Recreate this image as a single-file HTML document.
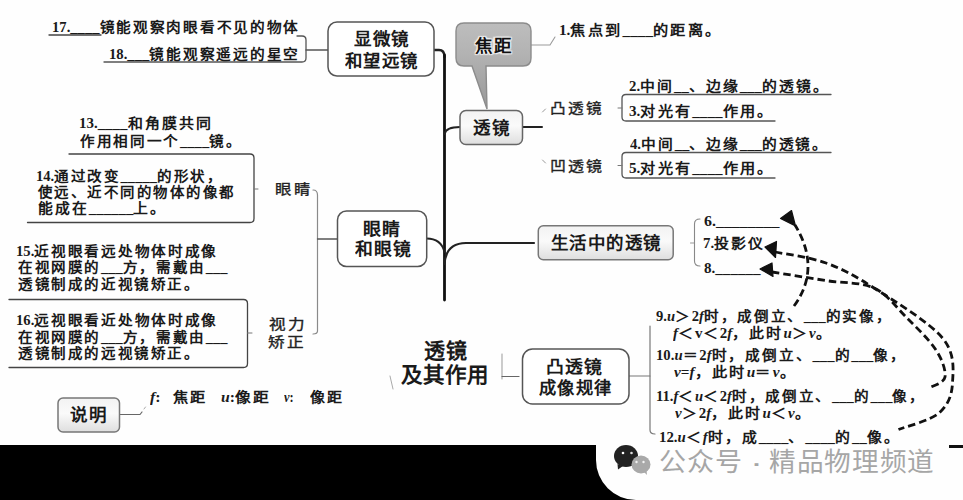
<!DOCTYPE html>
<html lang="zh-CN"><head><meta charset="utf-8"><style>
html,body{margin:0;padding:0;width:963px;height:500px;overflow:hidden;background:#fefefe}
.t{position:absolute;white-space:nowrap;font-family:"Liberation Serif",serif;line-height:100px;color:#1a1a1a;transform-origin:0 0}
.t i{font-style:italic}
.u,.t i{letter-spacing:0}
svg{position:absolute;left:0;top:0}
.wm{position:absolute;white-space:nowrap;font-family:"Liberation Sans",sans-serif;color:#9c9c9c;line-height:40px}
</style></head><body>
<svg width="963" height="500" viewBox="0 0 963 500">
<defs>
<linearGradient id="gbox" x1="0" y1="0" x2="0" y2="1">
<stop offset="0" stop-color="#f2f2f2"/><stop offset="0.45" stop-color="#fafafa"/><stop offset="1" stop-color="#dedede"/>
</linearGradient>
<linearGradient id="gcall" x1="0" y1="0" x2="0" y2="1">
<stop offset="0" stop-color="#bdbdbd"/><stop offset="0.35" stop-color="#b3b3b3"/><stop offset="1" stop-color="#979797"/>
</linearGradient>
</defs>
<g fill="none" stroke-linecap="round" stroke-linejoin="round">
<!-- 17/18 -->
<path d="M49 35 H101" stroke="#444" stroke-width="1.3"/>
<path d="M104 62 H302 Q306 62 306 58 V40 Q306 36 302 36 H297" stroke="#555" stroke-width="1.3"/>
<path d="M306 50 H328" stroke="#555" stroke-width="1.3"/>
<!-- trunk -->
<path d="M434 50 H439 Q444.5 50 444.5 57" stroke="#222" stroke-width="2.4"/>
<path d="M444.5 55 V300" stroke="#111" stroke-width="2.8"/>
<!-- callout connector -->
<path d="M531 45 H550 L555 37" stroke="#9a9a9a" stroke-width="1.1"/>
<!-- lens -->
<path d="M444.5 134 Q446 127 460 127" stroke="#222" stroke-width="2"/>
<path d="M522.5 127 H542" stroke="#222" stroke-width="2"/>
<path d="M542.5 112 L545.5 109" stroke="#999" stroke-width="1"/>
<path d="M542.5 160 L545.5 163" stroke="#999" stroke-width="1"/>
<path d="M831 94.5 H626 Q622 94.5 622 98.5 V117 Q622 121 626 121 H775" stroke="#555" stroke-width="1.3"/>
<path d="M618 108 H622" stroke="#777" stroke-width="1"/>
<path d="M831 152.5 H626 Q622 152.5 622 156.5 V174 Q622 178 626 178 H775" stroke="#555" stroke-width="1.3"/>
<path d="M618 165.5 H622" stroke="#777" stroke-width="1"/>
<!-- 13/14 -->
<path d="M69 154 H250 Q254 154 254 158 V218.5 Q254 222.5 250 222.5 H27.5" stroke="#444" stroke-width="1.3"/>
<path d="M254 189 H258" stroke="#777" stroke-width="1"/>
<path d="M313 190 Q317.5 190 317.5 195 V331 Q317.5 334 313 334" stroke="#8a8a8a" stroke-width="1.2"/>
<path d="M317.5 239 H337.5" stroke="#555" stroke-width="1.3"/>
<path d="M9 299.5 H243.5 Q247.5 299.5 247.5 303.5 V363.5 Q247.5 367.5 243.5 367.5 H9" stroke="#444" stroke-width="1.3"/>
<path d="M247.5 333 H252" stroke="#777" stroke-width="1"/>
<path d="M426.6 238.6 Q441 238.6 444.5 252" stroke="#222" stroke-width="2"/>
<!-- life -->
<path d="M444.5 264 Q446 243 466 243 H534" stroke="#222" stroke-width="2.2"/>
<path d="M690.5 243 H694.5" stroke="#999" stroke-width="1"/>
<path d="M700 219 Q694.5 219 694.5 224 V261 Q694.5 266 700 266" stroke="#888" stroke-width="1.1"/>
<!-- title / rules -->
<path d="M390 376 L393 389" stroke="#aaa" stroke-width="1"/>
<path d="M502 354 V379" stroke="#999" stroke-width="1"/>
<path d="M502 376.5 H519" stroke="#666" stroke-width="1.2"/>
<path d="M629 376 H650" stroke="#777" stroke-width="1.1"/>
<path d="M650 326 V430 Q650 434 655 434" stroke="#777" stroke-width="1.2"/>
<path d="M120 414.5 H140 L142 412" stroke="#666" stroke-width="1.2"/>
<path d="M144 409 L145.5 407" stroke="#aaa" stroke-width="1"/>
</g>
<!-- boxes -->
<rect x="328" y="22" width="106" height="54" rx="9" fill="#fff" stroke="#555" stroke-width="1.5"/>
<path d="M464 23 H523 Q531 23 531 31 V58 Q531 66 523 66 H486 L487 109 L472 66 H464 Q456 66 456 58 V31 Q456 23 464 23 Z" fill="url(#gcall)" stroke="#8c8c8c" stroke-width="1.4"/>
<rect x="460" y="110.5" width="62.5" height="34" rx="6" fill="url(#gbox)" stroke="#666" stroke-width="1.5"/>
<rect x="337.5" y="211" width="89.2" height="55.5" rx="9" fill="#fff" stroke="#555" stroke-width="1.5"/>
<rect x="538.3" y="225.8" width="134.9" height="34" rx="5" fill="url(#gbox)" stroke="#777" stroke-width="1.5"/>
<rect x="522.5" y="349" width="106.5" height="55" rx="10" fill="#fff" stroke="#555" stroke-width="1.5"/>
<rect x="58" y="398" width="61.5" height="34" rx="5" fill="url(#gbox)" stroke="#777" stroke-width="1.5"/>
<!-- dashed arrows -->
<g fill="none" stroke="#111" stroke-width="2.8" stroke-dasharray="7.5 4">
<path d="M794 306 Q821.5 268.5 795 225"/>
<path d="M775 252 C783.5 253.8 809.5 257.0 826 263 C842.5 269.0 854.6 275.5 874 288 C893.4 300.5 929.4 322.2 942.5 338 C955.6 353.8 953.1 370.5 952.5 383 C951.9 395.5 948.0 405.2 939 413 C930.0 420.8 905.2 426.8 898.5 429.5"/>
<path d="M772 272 C781.0 273.4 809.0 277.9 826 280.6 C843.0 283.3 860.7 281.9 874 288 C887.3 294.1 895.7 306.7 906 317 C916.3 327.3 929.5 340.0 936 350 C942.5 360.0 946.0 370.8 945 377 C944.0 383.2 932.5 385.8 930 387.5"/>
</g>
<g fill="#111">
<path d="M791.5 210.5 L780.5 218.5 L795.5 226 Z" stroke="#111" stroke-width="1.2" stroke-linejoin="round"/>
<path d="M765 247 L776.5 241.5 L775.5 257.5 Z" stroke="#111" stroke-width="1.2" stroke-linejoin="round"/>
<path d="M760 269 L772 263 L773 276.5 Z" stroke="#111" stroke-width="1.2" stroke-linejoin="round"/>
</g>
<!-- black bar -->
<path d="M0 445 H596 V460 A40 40 0 0 0 636 500 H0 Z" fill="#000"/>
<rect x="949" y="445" width="14" height="3" fill="#111"/>
<!-- wechat icon -->
<ellipse cx="626" cy="456" rx="12" ry="11" fill="#222"/>
<path d="M617.5 464 L618 469.5 L623 466 Z" fill="#222"/>
<circle cx="623" cy="453" r="1.3" fill="#fff"/><circle cx="631.5" cy="453" r="1.3" fill="#ddd"/>
<ellipse cx="641" cy="464.5" rx="9.5" ry="9" fill="#a9a9a9"/>
<path d="M644 472 L647 475 L646.5 470 Z" fill="#a9a9a9"/>
<circle cx="636.5" cy="462" r="1.2" fill="#f2f2f2"/><circle cx="643.5" cy="462" r="1.2" fill="#f2f2f2"/>
</svg>
<div class="t" style="left:51.96px;top:-22.00px;font-size:14px;font-weight:bold;letter-spacing:2px;transform:scaleX(1.0449);"><span class="u">17.____</span>镜能观察肉眼看不见的物体</div>
<div class="t" style="left:108.95px;top:4.50px;font-size:14px;font-weight:bold;letter-spacing:2px;transform:scaleX(1.0475);"><span class="u">18.___</span>镜能观察遥远的星空</div>
<div class="t" style="left:354.00px;top:-10.00px;font-size:17px;font-weight:bold;letter-spacing:1px;transform:scaleX(1.0288);">显微镜</div>
<div class="t" style="left:344.50px;top:11.50px;font-size:17px;font-weight:bold;letter-spacing:1px;transform:scaleX(1.0214);">和望远镜</div>
<div class="t" style="left:475.00px;top:-3.50px;font-size:17px;font-weight:bold;letter-spacing:1px;transform:scaleX(1.0294);text-shadow:0 0 1px #fff,0 0 2px #fff,1px 1px 1px #eee,-1px -1px 1px #eee,1px -1px 1px #eee,-1px 1px 1px #eee;color:#111;">焦距</div>
<div class="t" style="left:558.91px;top:-19.50px;font-size:14px;font-weight:bold;letter-spacing:2px;transform:scaleX(1.0870);"><span class="u">1.</span>焦点到<span class="u">____</span>的距离。</div>
<div class="t" style="left:472.50px;top:78.50px;font-size:17px;font-weight:bold;letter-spacing:1px;transform:scaleX(1.0294);">透镜</div>
<div class="t" style="left:549.88px;top:58.50px;font-size:14px;font-weight:normal;letter-spacing:2px;transform:scaleX(1.1163);color:#222;-webkit-text-stroke:0.35px #222;">凸透镜</div>
<div class="t" style="left:549.86px;top:117.00px;font-size:14px;font-weight:normal;letter-spacing:2px;transform:scaleX(1.1395);color:#222;-webkit-text-stroke:0.35px #222;">凹透镜</div>
<div class="t" style="left:628.94px;top:37.00px;font-size:14px;font-weight:bold;letter-spacing:2px;transform:scaleX(1.0593);"><span class="u">2.</span>中间<span class="u">__</span>、边缘<span class="u">___</span>的透镜。</div>
<div class="t" style="left:628.92px;top:61.50px;font-size:14px;font-weight:bold;letter-spacing:2px;transform:scaleX(1.0820);"><span class="u">3.</span>对光有<span class="u">____</span>作用。</div>
<div class="t" style="left:630.00px;top:95.00px;font-size:14px;font-weight:bold;letter-spacing:2px;transform:scaleX(1.0506);"><span class="u">4.</span>中间<span class="u">__</span>、边缘<span class="u">___</span>的透镜。</div>
<div class="t" style="left:628.92px;top:118.50px;font-size:14px;font-weight:bold;letter-spacing:2px;transform:scaleX(1.0820);"><span class="u">5.</span>对光有<span class="u">____</span>作用。</div>
<div class="t" style="left:78.93px;top:73.50px;font-size:14px;font-weight:bold;letter-spacing:2px;transform:scaleX(1.0661);"><span class="u">13.____</span>和角膜共同</div>
<div class="t" style="left:80.00px;top:91.50px;font-size:14px;font-weight:bold;letter-spacing:2px;transform:scaleX(1.0417);">作用相同一个<span class="u">____</span>镜。</div>
<div class="t" style="left:36.46px;top:126.50px;font-size:14px;font-weight:bold;letter-spacing:2px;transform:scaleX(1.0380);"><span class="u">14.</span>通过改变<span class="u">_____</span>的形状，</div>
<div class="t" style="left:37.50px;top:142.50px;font-size:14px;font-weight:bold;letter-spacing:2px;transform:scaleX(1.0291);">使远、近不同的物体的像都</div>
<div class="t" style="left:37.50px;top:159.00px;font-size:14px;font-weight:bold;letter-spacing:2px;transform:scaleX(1.0591);">能成在<span class="u">______</span>上。</div>
<div class="t" style="left:274.83px;top:140.00px;font-size:14px;font-weight:normal;letter-spacing:2px;transform:scaleX(1.1667);color:#222;-webkit-text-stroke:0.35px #222;">眼睛</div>
<div class="t" style="left:16.46px;top:201.50px;font-size:14px;font-weight:bold;letter-spacing:2px;transform:scaleX(1.0447);"><span class="u">15.</span>近视眼看远处物体时成像</div>
<div class="t" style="left:17.50px;top:217.50px;font-size:14px;font-weight:bold;letter-spacing:2px;transform:scaleX(1.0373);">在视网膜的<span class="u">___</span>方，需戴由<span class="u">___</span></div>
<div class="t" style="left:17.50px;top:234.50px;font-size:14px;font-weight:bold;letter-spacing:2px;transform:scaleX(1.0366);">透镜制成的近视镜矫正。</div>
<div class="t" style="left:16.46px;top:270.50px;font-size:14px;font-weight:bold;letter-spacing:2px;transform:scaleX(1.0447);"><span class="u">16.</span>远视眼看近处物体时成像</div>
<div class="t" style="left:17.50px;top:287.50px;font-size:14px;font-weight:bold;letter-spacing:2px;transform:scaleX(1.0373);">在视网膜的<span class="u">___</span>方，需戴由<span class="u">___</span></div>
<div class="t" style="left:17.50px;top:304.00px;font-size:14px;font-weight:bold;letter-spacing:2px;transform:scaleX(1.0366);">透镜制成的远视镜矫正。</div>
<div class="t" style="left:269.00px;top:275.00px;font-size:14px;font-weight:normal;letter-spacing:2px;transform:scaleX(1.1852);color:#222;-webkit-text-stroke:0.35px #222;">视力</div>
<div class="t" style="left:267.81px;top:293.00px;font-size:14px;font-weight:normal;letter-spacing:2px;transform:scaleX(1.1852);color:#222;-webkit-text-stroke:0.35px #222;">矫正</div>
<div class="t" style="left:362.94px;top:179.50px;font-size:17px;font-weight:bold;letter-spacing:1px;transform:scaleX(1.0606);">眼睛</div>
<div class="t" style="left:354.50px;top:200.00px;font-size:17px;font-weight:bold;letter-spacing:1px;transform:scaleX(1.0481);">和眼镜</div>
<div class="t" style="left:550.80px;top:193.50px;font-size:17px;font-weight:bold;letter-spacing:1px;transform:scaleX(1.0264);">生活中的透镜</div>
<div class="t" style="left:704.00px;top:172.00px;font-size:14px;font-weight:bold;letter-spacing:2px;transform:scaleX(1.1364);"><span class="u">6.________</span></div>
<div class="t" style="left:702.94px;top:194.00px;font-size:14px;font-weight:bold;letter-spacing:2px;transform:scaleX(1.0636);"><span class="u">7.</span>投影仪</div>
<div class="t" style="left:704.00px;top:218.50px;font-size:14px;font-weight:bold;letter-spacing:2px;transform:scaleX(1.0769);"><span class="u">8.______</span></div>
<div class="t" style="left:424.00px;top:300.50px;font-size:21px;font-weight:bold;letter-spacing:0.5px;transform:scaleX(1.0000);">透镜</div>
<div class="t" style="left:401.00px;top:324.50px;font-size:21px;font-weight:bold;letter-spacing:0.5px;transform:scaleX(1.0241);">及其作用</div>
<div class="t" style="left:546.45px;top:318.00px;font-size:17px;font-weight:bold;letter-spacing:1px;transform:scaleX(1.0490);">凸透镜</div>
<div class="t" style="left:539.00px;top:338.50px;font-size:17px;font-weight:bold;letter-spacing:1px;transform:scaleX(1.0143);">成像规律</div>
<div class="t" style="left:656.00px;top:266.50px;font-size:14px;font-weight:bold;letter-spacing:2px;transform:scaleX(1.0413);"><span class="u">9.</span><i><span class="u">u</span></i>＞<span class="u">2</span><i><span class="u">f</span></i>时，成倒立、<span class="u">___</span>的实像，</div>
<div class="t" style="left:672.50px;top:283.50px;font-size:14px;font-weight:bold;letter-spacing:2px;transform:scaleX(1.0693);"><i><span class="u">f</span></i>＜<span class="u">v</span>＜<span class="u">2</span><i><span class="u">f</span></i>，此时<i><span class="u">u</span></i>＞<i><span class="u">v</span></i>。</div>
<div class="t" style="left:656.45px;top:306.00px;font-size:14px;font-weight:bold;letter-spacing:2px;transform:scaleX(1.0502);"><span class="u">10.</span><i><span class="u">u</span></i>＝<span class="u">2</span><i><span class="u">f</span></i>时，成倒立、<span class="u">___</span>的<span class="u">___</span>像，</div>
<div class="t" style="left:674.00px;top:322.50px;font-size:14px;font-weight:bold;letter-spacing:2px;transform:scaleX(1.0891);"><i><span class="u">v</span></i><span class="u">=</span><i><span class="u">f</span></i>，此时<i><span class="u">u</span></i>＝<i><span class="u">v</span></i>。</div>
<div class="t" style="left:656.46px;top:347.00px;font-size:14px;font-weight:bold;letter-spacing:2px;transform:scaleX(1.0422);"><span class="u">11.</span><i><span class="u">f</span></i>＜<i><span class="u">u</span></i>＜<span class="u">2</span><i><span class="u">f</span></i>时，成倒立、<span class="u">___</span>的<span class="u">___</span>像，</div>
<div class="t" style="left:675.00px;top:363.50px;font-size:14px;font-weight:bold;letter-spacing:2px;transform:scaleX(1.0690);"><i><span class="u">v</span></i>＞<span class="u">2</span><i><span class="u">f</span></i>，此时<i><span class="u">u</span></i>＜<i><span class="u">v</span></i>。</div>
<div class="t" style="left:658.94px;top:387.50px;font-size:14px;font-weight:bold;letter-spacing:2px;transform:scaleX(1.0605);"><span class="u">12.</span><i><span class="u">u</span></i>＜<i><span class="u">f</span></i>时，成<span class="u">____</span>、<span class="u">____</span>的<span class="u">__</span>像。</div>
<div class="t" style="left:70.00px;top:365.50px;font-size:17px;font-weight:bold;letter-spacing:1px;transform:scaleX(1.0303);">说明</div>
<div class="t" style="left:150.00px;top:347.50px;font-size:14px;font-weight:bold;letter-spacing:2px;transform:scaleX(1.1429);"><i><span class="u">f</span></i><span class="u">:</span></div>
<div class="t" style="left:172.50px;top:347.50px;font-size:14px;font-weight:bold;letter-spacing:2px;transform:scaleX(1.0862);">焦距</div>
<div class="t" style="left:221.38px;top:347.50px;font-size:14px;font-weight:bold;letter-spacing:2px;transform:scaleX(1.1250);"><i><span class="u">u</span></i><span class="u">:</span>像距</div>
<div class="t" style="left:284.00px;top:347.50px;font-size:14px;font-weight:bold;letter-spacing:2px;transform:scaleX(0.8889);"><i><span class="u">v</span></i><span class="u">:</span></div>
<div class="t" style="left:310.00px;top:347.50px;font-size:14px;font-weight:bold;letter-spacing:2px;transform:scaleX(1.0690);">像距</div>
<div class="t" style="left:658.96px;top:412.00px;font-size:26px;font-weight:300;letter-spacing:1px;transform:scaleX(1.0390);font-family:'Liberation Sans',sans-serif;color:#a6a6a6;">公众号</div>
<div class="t" style="left:768.97px;top:412.00px;font-size:26px;font-weight:300;letter-spacing:1px;transform:scaleX(1.0255);font-family:'Liberation Sans',sans-serif;color:#a6a6a6;">精品物理频道</div>
<div class="t" style="left:749.50px;top:412.50px;font-size:26px;font-weight:300;letter-spacing:1px;transform:scaleX(1.5000);font-family:'Liberation Sans',sans-serif;color:#a6a6a6;">·</div>
</body></html>
